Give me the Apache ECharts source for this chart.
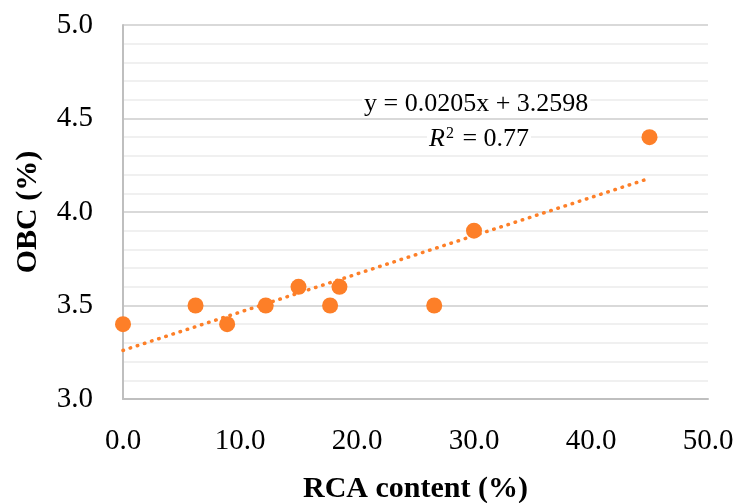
<!DOCTYPE html>
<html>
<head>
<meta charset="utf-8">
<script src="https://cdn.jsdelivr.net/npm/echarts@6/dist/echarts.min.js"></script>
<style>
  html, body { margin: 0; padding: 0; background: #fff; }
  #chart { width: 737px; height: 503px; }
</style>
</head>
<body>
<div id="chart"></div>
<script>
// RCA content (%) vs OBC (%)
const rcaContent = [0.0, 6.2, 8.9, 12.2, 15.0, 17.7, 18.5, 26.6, 30.0, 45.0];
const obcValues  = [3.4, 3.5, 3.4, 3.5, 3.6, 3.5, 3.6, 3.5, 3.9, 4.4];
// trendline ends as seen in the picture
const trendX = [0, 45];
const trendY = [3.26, 4.18];
const equationText = 'y = 0.0205x + 3.2598';
const r2Text = '{i|R}{s|2} = 0.77';

const orange = '#FD7F28';
const serif = '"Liberation Serif", "DejaVu Serif", serif';

const chart = echarts.init(document.getElementById('chart'));

const points = rcaContent.map((x, i) => [x, obcValues[i]]);
const trend = trendX.map((x, i) => [x, trendY[i]]);

const option = {
    animation: false,
    grid: { left: 123, right: 29, top: 25, bottom: 104, outerBoundsMode: 'none', containLabel: false },
    xAxis: {
        type: 'value',
        min: 0, max: 50, interval: 10,
        name: 'RCA content (%)',
        nameLocation: 'middle',
        nameGap: 75,
        nameTextStyle: { fontFamily: serif, fontSize: 30, fontWeight: 'bold', color: '#000' },
        axisLine: { show: true, lineStyle: { color: '#bfbfbf', width: 2 } },
        axisTick: { show: false },
        splitLine: { show: false },
        axisLabel: {
            fontFamily: serif, fontSize: 29, color: '#000', margin: 28,
            formatter: v => v.toFixed(1)
        }
    },
    yAxis: {
        type: 'value',
        min: 3.0, max: 5.0, interval: 0.5,
        name: 'OBC (%)',
        nameLocation: 'middle',
        nameGap: 80,
        nameTextStyle: { fontFamily: serif, fontSize: 30, fontWeight: 'bold', color: '#000' },
        axisLine: { show: true, lineStyle: { color: '#bfbfbf', width: 2 } },
        axisTick: { show: false },
        axisLabel: {
            fontFamily: serif, fontSize: 29, color: '#000', margin: 30,
            formatter: v => v.toFixed(1)
        },
        splitLine: { show: true, lineStyle: { color: '#d9d9d9', width: 2 } },
        minorTick: { show: false, splitNumber: 5 },
        minorSplitLine: { show: true, lineStyle: { color: '#f0f0f0', width: 2 } }
    },
    series: [
        {
            type: 'line',
            data: trend,
            symbol: 'none',
            silent: true,
            lineStyle: { color: orange, width: 3.5, type: [0.5, 7], cap: 'round' },
            z: 2
        },
        {
            type: 'scatter',
            data: points,
            symbol: 'circle',
            symbolSize: 16,
            itemStyle: { color: orange, opacity: 1 },
            z: 3
        }
    ],
    graphic: [
        {
            type: 'text',
            left: 362, top: 90, z: 100,
            style: {
                text: equationText, font: '26px ' + serif, fill: '#000',
                backgroundColor: '#fff', padding: [1, 2, 0, 2]
            }
        },
        {
            type: 'text',
            left: 427, top: 126, z: 100,
            style: {
                text: r2Text,
                fill: '#000',
                backgroundColor: '#fff',
                padding: [0, 2, 0, 2],
                rich: {
                    i: { fontFamily: serif, fontSize: 26, fontStyle: 'italic' },
                    s: { fontFamily: serif, fontSize: 16, verticalAlign: 'top', padding: [0, 2, 10, 1] }
                },
                fontFamily: serif, fontSize: 26
            }
        }
    ]
};

chart.setOption(option);
</script>
</body>
</html>
